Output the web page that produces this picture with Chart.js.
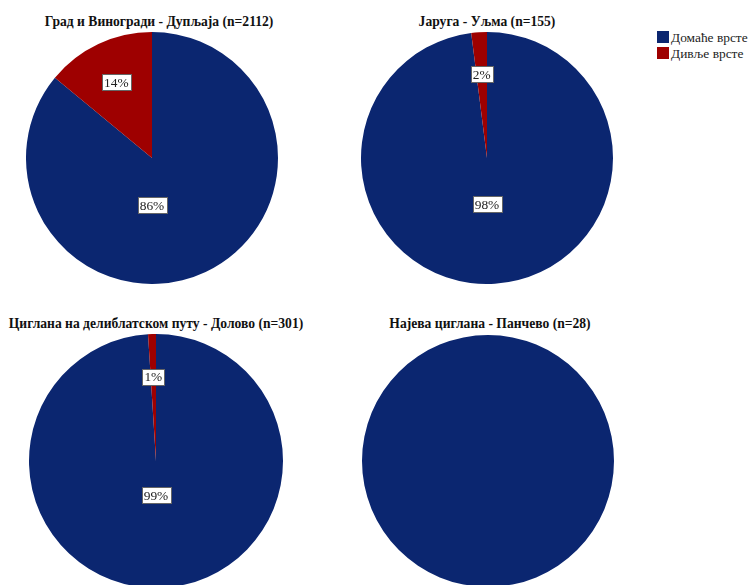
<!DOCTYPE html>
<html>
<head>
<meta charset="utf-8">
<script src="https://cdn.jsdelivr.net/npm/chart.js@4/dist/chart.umd.min.js"></script>
<style>
  html, body { margin: 0; padding: 0; background: #fff; }
  #page { position: relative; width: 748px; height: 585px; overflow: hidden; background: #fff; }
  .ttl { position: absolute; font: bold 13.6px "Liberation Serif", "Times New Roman", serif; color: #111;
         white-space: nowrap; transform: translate(-50%, -50%); }
  .pie { position: absolute; }
  #legend { position: absolute; left: 657px; top: 31px; font: 13.4px "Liberation Serif", "Times New Roman", serif; color: #222; }
  #legend div { height: 16px; line-height: 14px; white-space: nowrap; }
  #legend span.sw { display: inline-block; width: 12px; height: 12px; vertical-align: -1px; margin-right: 2px; }
</style>
</head>
<body>
<div id="page"></div>
<script>
// Species groups and their colours
const groups = ['Домаће врсте', 'Дивље врсте'];
const groupColors = ['#0b2670', '#9e0000'];

// Sites (titles) and percentage shares per site
const siteTitles = [
  'Град и Виногради - Дупљаја (n=2112)',
  'Јаруга - Уљма (n=155)',
  'Циглана на делиблатском путу - Долово (n=301)',
  'Најева циглана - Панчево (n=28)'
];
const domesticShare = [86, 98, 99, 100];
const wildShare = [14, 2, 1, 0];

// Panel geometry: pie centre, radius, title centre, offset of the large-slice label
const panels = [
  { cx: 152,   cy: 157.5, r: 126, tx: 159, ty: 22,  bigOff: 47 },
  { cx: 487,   cy: 157.5, r: 126, tx: 487, ty: 22,  bigOff: 46 },
  { cx: 155.5, cy: 461,   r: 127, tx: 156, ty: 324, bigOff: 34 },
  { cx: 487.5, cy: 461,   r: 126, tx: 490, ty: 324, bigOff: 34 }
];

// Percentage labels in white boxes; large slice below the centre, small ones on their mid-angle
const boxLabels = {
  id: 'boxLabels',
  afterDatasetsDraw(chart, args, opts) {
    const ctx = chart.ctx;
    const meta = chart.getDatasetMeta(0);
    const data = chart.data.datasets[0].data;
    const total = data.reduce((a, b) => a + b, 0);
    ctx.save();
    ctx.font = '13.4px "Liberation Serif", "Times New Roman", serif';
    ctx.textAlign = 'center';
    ctx.textBaseline = 'middle';
    meta.data.forEach((arc, i) => {
      const v = data[i];
      if (v <= 0 || v >= total) return;
      const txt = Math.round(v / total * 100) + '%';
      let x, y;
      if (v / total >= 0.5) {
        x = arc.x;
        y = arc.y + opts.bigOff;
      } else {
        const mid = (arc.startAngle + arc.endAngle) / 2;
        const d = arc.outerRadius * 0.665;
        x = arc.x + Math.cos(mid) * d;
        y = arc.y + Math.sin(mid) * d;
      }
      const w = ctx.measureText(txt).width + 4;
      const h = 16;
      ctx.fillStyle = '#fff';
      ctx.fillRect(Math.round(x - w / 2) + 0.5, Math.round(y - h / 2) + 0.5, Math.round(w), h);
      ctx.strokeStyle = '#666';
      ctx.lineWidth = 1;
      ctx.strokeRect(Math.round(x - w / 2) + 0.5, Math.round(y - h / 2) + 0.5, Math.round(w), h);
      ctx.fillStyle = '#222';
      ctx.fillText(txt, x, y + 1);
    });
    ctx.restore();
  }
};

const page = document.getElementById('page');

panels.forEach((p, k) => {
  const t = document.createElement('div');
  t.className = 'ttl';
  t.style.left = p.tx + 'px';
  t.style.top = p.ty + 'px';
  t.textContent = siteTitles[k];
  page.appendChild(t);

  const size = p.r * 2;
  const box = document.createElement('div');
  box.className = 'pie';
  box.style.left = (p.cx - p.r) + 'px';
  box.style.top = (p.cy - p.r) + 'px';
  box.style.width = size + 'px';
  box.style.height = size + 'px';
  const cv = document.createElement('canvas');
  box.appendChild(cv);
  page.appendChild(box);

  new Chart(cv, {
    type: 'pie',
    data: {
      labels: groups,
      datasets: [{
        data: [domesticShare[k], wildShare[k]],
        backgroundColor: groupColors,
        borderWidth: 0
      }]
    },
    options: {
      responsive: true,
      maintainAspectRatio: false,
      animation: false,
      layout: { padding: 0 },
      plugins: {
        legend: { display: false },
        tooltip: { enabled: false },
        title: { display: false },
        boxLabels: { bigOff: p.bigOff }
      }
    },
    plugins: [boxLabels]
  });
});

// Shared legend
const lg = document.createElement('div');
lg.id = 'legend';
groups.forEach((g, i) => {
  const row = document.createElement('div');
  const sw = document.createElement('span');
  sw.className = 'sw';
  sw.style.background = groupColors[i];
  row.appendChild(sw);
  row.appendChild(document.createTextNode(g));
  lg.appendChild(row);
});
page.appendChild(lg);
</script>
</body>
</html>
